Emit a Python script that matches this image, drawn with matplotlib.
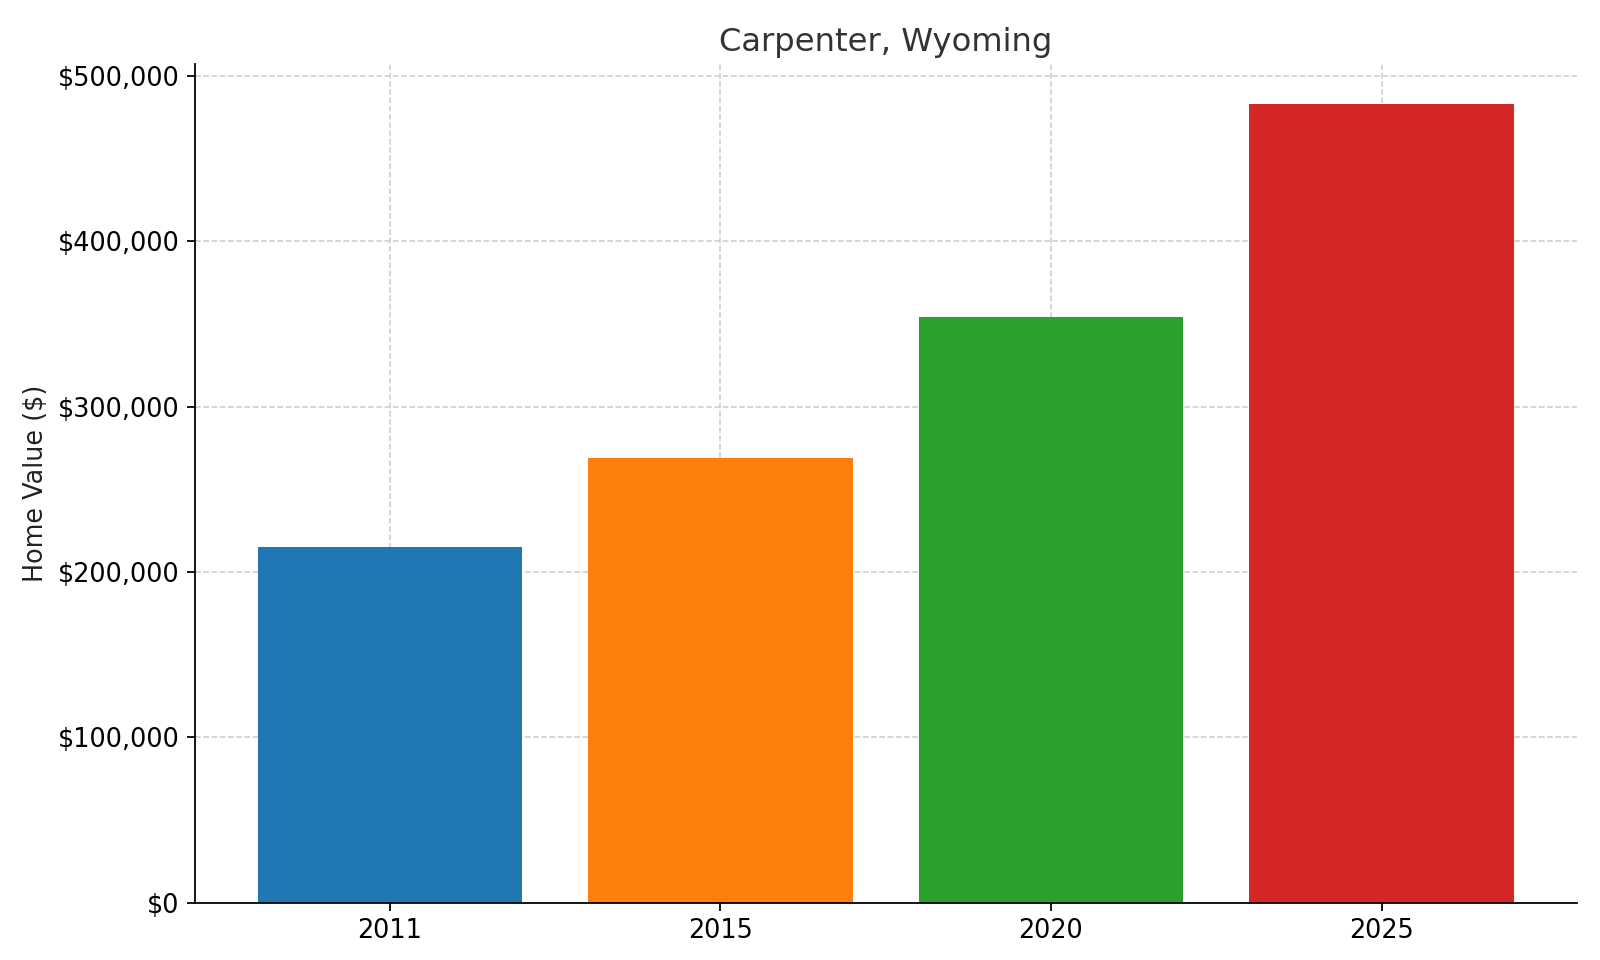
import matplotlib
matplotlib.use("Agg")
import matplotlib.pyplot as plt
from matplotlib.ticker import FuncFormatter

years = ["2011", "2015", "2020", "2025"]
values = [215000, 269000, 354000, 483000]
colors = ["#1f77b4", "#ff7f0e", "#2ca02c", "#d62728"]

W, H = 1568, 940
fig = plt.figure(figsize=(10, 6), dpi=160)
ax = fig.add_axes([191/W, 1-884/H, (1545-191)/W, (884-63)/H])
ax.bar(years, values, color=colors, zorder=2)
ax.set_ylim(0, 507000)
ax.yaxis.set_major_formatter(FuncFormatter(lambda v, p: f"${v:,.0f}"))
ax.grid(True, linestyle="--", color="#cccccc", linewidth=0.7, zorder=3)
for s in ["top", "right"]:
    ax.spines[s].set_visible(False)
ax.set_title("Carpenter, Wyoming", fontsize=14.5, color="#333333")
ax.set_ylabel("Home Value ($)", fontsize=11.5, color="#222222")
ax.tick_params(labelsize=11.5)
fig.savefig("out.png", dpi=160)
